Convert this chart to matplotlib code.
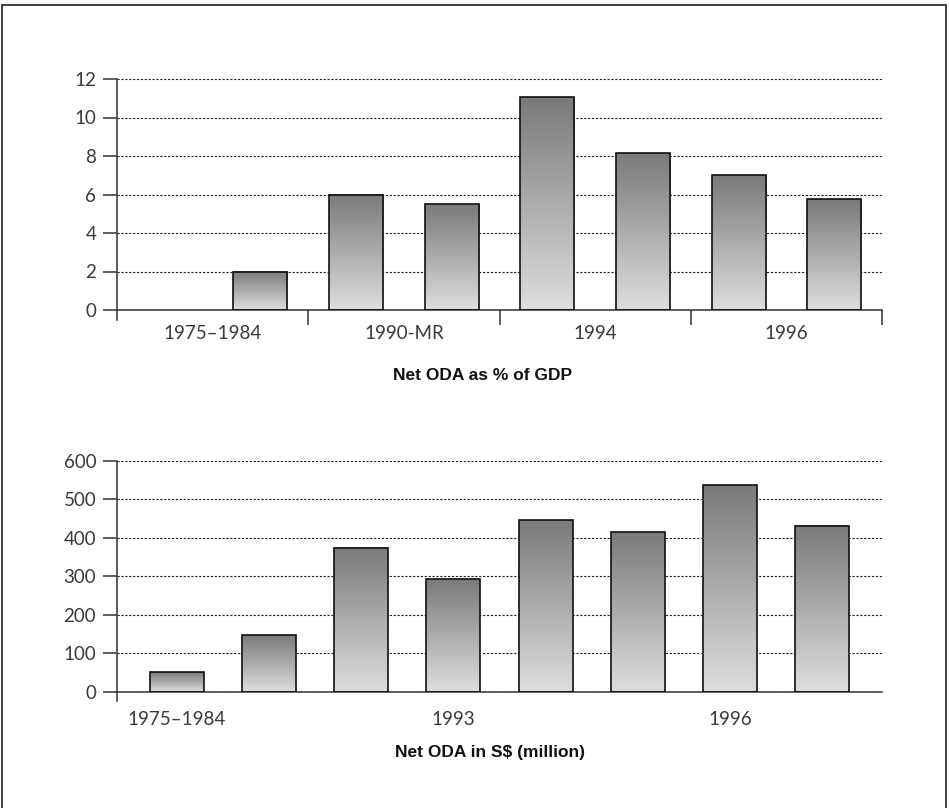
import matplotlib
matplotlib.use('Agg')
import matplotlib.pyplot as plt
import numpy as np
from matplotlib.patches import Rectangle
from matplotlib.colors import LinearSegmentedColormap

# data
pct_vals = [0, 2.0, 6.0, 5.5, 11.05, 8.15, 7.0, 5.75]
pct_groups = ['1975\u20131984', '1990-MR', '1994', '1996']
sd_vals = [50, 147, 375, 293, 447, 415, 537, 432]
sd_labels = ['1975\u20131984', '1993', '1996']
sd_label_pos = [0, 3, 6]

grad = LinearSegmentedColormap.from_list('g', ['#dedede', '#7a7a7a'])
tickfont = dict(family='Lato', weight='normal')
axcol = '#333333'
labcol = '#3a3a3a'

fig = plt.figure(figsize=(9.49, 8.08), dpi=100)

# border
fig.patches.append(Rectangle((2/949, -0.01), 944/949, 1 - 5/808 + 0.01,
                             transform=fig.transFigure, fill=False,
                             edgecolor='#222222', lw=1.2))

def gradient_bars(ax, xs, vals, w):
    g = np.linspace(0, 1, 256).reshape(-1, 1)
    for x, v in zip(xs, vals):
        if v <= 0:
            continue
        ax.imshow(g, extent=[x - w/2, x + w/2, 0, v], origin='lower',
                  cmap=grad, aspect='auto', zorder=2)
        ax.add_patch(Rectangle((x - w/2, 0), w, v, fill=False,
                               edgecolor='#111111', lw=1.2, zorder=3))

def style(ax):
    for s in ['top', 'right']:
        ax.spines[s].set_visible(False)
    for s in ['left', 'bottom']:
        ax.spines[s].set_color(axcol)
        ax.spines[s].set_linewidth(1.1)
    ax.yaxis.grid(True, color='#222222', lw=0.8, linestyle=(0, (2, 1.5)))
    ax.set_axisbelow(True)
    ax.tick_params(axis='y', length=10, width=1.1, color=axcol, pad=5,
                   labelsize=13.5, labelcolor=labcol)
    ax.plot([0, 0], [0, -0.042], transform=ax.transAxes, color=axcol,
            lw=1.1, clip_on=False)

# top chart
ax1 = fig.add_axes([117/949, 1 - 310/808, 765/949, 231/808])
x1 = np.arange(len(pct_vals))
gradient_bars(ax1, x1, pct_vals, 0.565)
ax1.set_xlim(-0.5, 7.5)
ax1.set_ylim(0, 12)
ax1.set_yticks(range(0, 13, 2))
ax1.set_yticklabels([str(v) for v in range(0, 13, 2)], **tickfont)
ax1.set_xticks([1.5, 3.5, 5.5, 7.5])
ax1.set_xticklabels([])
ax1.set_xticks([0.5, 2.5, 4.5, 6.5], minor=True)
ax1.set_xticklabels(pct_groups, minor=True, **tickfont)
ax1.tick_params(axis='x', which='major', length=11, width=1.1, color=axcol)
ax1.tick_params(axis='x', which='minor', length=0, pad=11, labelsize=13.5,
                labelcolor=labcol)
style(ax1)
fig.text(483/949, 1 - 375/808, 'Net ODA as % of GDP', ha='center', va='center',
         family='Liberation Sans', weight='bold', fontsize=12.5, color='#111111')

# bottom chart
ax2 = fig.add_axes([117/949, 1 - 691.7/808, 765/949, 230.7/808])
x2 = np.arange(len(sd_vals))
gradient_bars(ax2, x2, sd_vals, 0.585)
ax2.set_xlim(-0.65, 7.65)
ax2.set_ylim(0, 600)
ax2.set_yticks(range(0, 601, 100))
ax2.set_yticklabels([str(v) for v in range(0, 601, 100)], **tickfont)
ax2.set_xticks(sd_label_pos)
ax2.set_xticklabels(sd_labels, **tickfont)
ax2.tick_params(axis='x', length=0, pad=14, labelsize=13.5, labelcolor=labcol)
style(ax2)
fig.text(490/949, 1 - 752/808, 'Net ODA in S$ (million)', ha='center', va='center',
         family='Liberation Sans', weight='bold', fontsize=12.5, color='#111111')

fig.savefig('out.png', dpi=100)
